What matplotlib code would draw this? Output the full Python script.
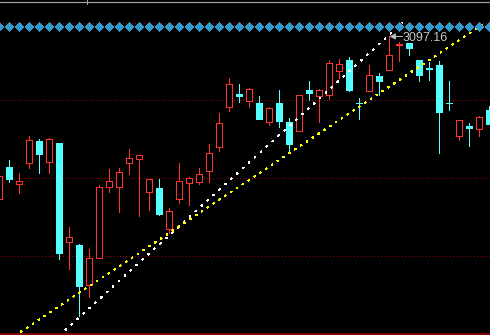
import matplotlib
matplotlib.use('Agg')
import matplotlib.pyplot as plt
from matplotlib.patches import Rectangle, Polygon
from matplotlib.lines import Line2D

plt.rcParams['lines.scale_dashes'] = False

# ---- data (index price) ----
opens = [2934.66, 2966.16, 2949.46, 2970.46, 2992.16, 2971.46, 2990.16, 2891.46, 2888.16, 2848.46,
         2875.46, 2945.86, 2945.86, 2969.86, 2974.46, 2940.86, 2945.16, 2904.46, 2934.46, 2949.86,
         2951.46, 2962.46, 2986.46, 3025.86, 3039.16, 3032.46, 3030.16, 3011.46, 3030.16, 3011.16,
         3002.66, 3043.16, 3036.86, 3038.66, 3062.66, 3073.16, 3030.46, 3042.66, 3057.16, 3063.66,
         3088.16, 3090.16, 3073.16, 3065.66, 3068.16, 3030.46, 2997.46, 3007.16, 3004.46, 3023.16]
highs = [2957.16, 2973.16, 2960.16, 2997.16, 2994.16, 2995.16, 2990.16, 2906.16, 2889.46, 2884.16,
         2948.16, 2964.16, 2965.16, 2984.16, 2977.86, 2953.86, 2954.16, 2925.16, 2970.16, 2956.46,
         2965.16, 2989.16, 3020.16, 3055.16, 3049.16, 3044.86, 3037.16, 3025.86, 3043.16, 3014.86,
         3037.86, 3052.16, 3043.86, 3073.66, 3074.16, 3076.36, 3034.86, 3068.16, 3060.16, 3097.16,
         3091.36, 3090.16, 3073.16, 3071.16, 3072.16, 3052.16, 3013.16, 3009.86, 3016.86, 3027.16]
lows = [2934.66, 2951.46, 2940.46, 2965.46, 2960.46, 2960.46, 2873.86, 2864.46, 2817.66, 2836.46,
        2875.46, 2941.46, 2921.46, 2959.46, 2917.46, 2923.16, 2918.16, 2900.46, 2930.46, 2928.16,
        2949.46, 2951.46, 2982.46, 3022.46, 3031.16, 3026.46, 3014.46, 3008.16, 3006.46, 2981.46,
        3002.66, 3033.16, 3011.46, 3034.66, 3055.16, 3042.16, 3014.66, 3042.66, 3038.36, 3063.66,
        3072.46, 3078.66, 3052.16, 3053.16, 2980.46, 3023.16, 2993.16, 2987.16, 2997.16, 3009.16]
closes = [2957.16, 2954.46, 2951.86, 2993.16, 2979.46, 2994.16, 2880.46, 2896.16, 2847.46, 2874.86,
          2946.16, 2951.86, 2960.86, 2974.86, 2977.86, 2953.86, 2919.46, 2921.86, 2951.86, 2955.16,
          2958.86, 2979.86, 3009.86, 3049.16, 3037.66, 3043.86, 3014.46, 3024.86, 3012.46, 2989.46,
          3037.86, 3040.46, 3042.86, 3070.66, 3068.86, 3043.16, 3029.86, 3057.96, 3052.46, 3078.16,
          3089.16, 3085.16, 3058.16, 3064.66, 3021.46, 3029.86, 3013.16, 3005.46, 3015.86, 3009.16]

grid_levels = [3110.86, 3033.86, 2955.96, 2878.16]
base_level = 2799.9
marker_level = 3106.66
peak_index = 39
peak_value = 3097.16
peak_label = "3097.16"

white_x = [6.57, 40.30]
white_y = [2803.56, 3110.86]
yellow_x = [2.12, 48.57]
yellow_y = [2801.86, 3110.76]

# ---- style ----
UP = '#FF3232'
DOWN = '#54FFFF'
GRID = '#8B0000'
DIAMOND = '#3399CC'
PX = 0.72  # one pixel in points at 100 dpi

fig = plt.figure(figsize=(4.9, 3.35), dpi=100)
fig.patch.set_facecolor('black')
ax = fig.add_axes([0, 0, 1, 1])
ax.set_facecolor('black')
ax.set_xlim(0.05, 49.05)
ax.set_ylim(2798.66, 3133.66)
ax.axis('off')

for lvl in grid_levels:
    ax.axhline(lvl, color=GRID, lw=PX, linestyle=(0, (0.5, 1.66)),
               antialiased=False, zorder=1)
ax.axhline(base_level, color='#800000', lw=1.5 * PX, antialiased=False, zorder=1)

# one screen pixel in data units
dx = 0.1
dy = 1.0
half_outer = 0.35
half_inner = 0.25


def rect(x0, x1, y0, y1, color, z):
    ax.add_patch(Rectangle((x0, y0), x1 - x0, y1 - y0, facecolor=color,
                           edgecolor='none', lw=0, antialiased=False, zorder=z))


for i, (o, h, l, c) in enumerate(zip(opens, highs, lows, closes)):
    up = c >= o
    col = UP if up else DOWN
    rect(i - dx / 2, i + dx / 2, l - dy / 2, h + dy / 2, col, 2)
    lo_b, hi_b = min(o, c), max(o, c)
    rect(i - half_outer, i + half_outer, lo_b - dy / 2, hi_b + dy / 2, col, 3)
    if up and hi_b - lo_b > dy:
        rect(i - half_inner, i + half_inner, lo_b + dy / 2, hi_b - dy / 2, 'black', 3.5)

# trend lines
ax.plot(white_x, white_y, color='white', lw=0.5, linestyle=(0, (1.2, 4.6)),
        antialiased=False, zorder=4)
ax.plot(yellow_x, yellow_y, color='#FFFF00', lw=0.5, linestyle=(0, (1.2, 4.1)),
        antialiased=False, zorder=4)

# diamond row
hw, hh = 0.38, 4.4
for i in range(len(opens)):
    ax.add_patch(Polygon([(i, marker_level + hh), (i + hw, marker_level),
                          (i, marker_level - hh), (i - hw, marker_level)],
                         closed=True, facecolor=DIAMOND, edgecolor='none',
                         antialiased=False, zorder=5))

# peak annotation
ax.annotate('', xy=(peak_index, peak_value), xytext=(peak_index + 1.3, peak_value),
            arrowprops=dict(arrowstyle='-|>,head_length=0.35,head_width=0.18',
                            color='#C0C0C0', lw=PX, shrinkA=0, shrinkB=0), zorder=6)
ax.text(peak_index + 1.35, peak_value - 4.2, peak_label, color='#C8C8C8',
        fontsize=9, family='Liberation Sans', ha='left', va='baseline', zorder=6)

# top border line
fig.add_artist(Line2D([0, 1], [1 - 1.5 / 335, 1 - 1.5 / 335], color='#A0A0A0', lw=1.2 * PX))
fig.add_artist(Line2D([86.5 / 490, 86.5 / 490], [1, 1 - 4 / 335], color='#A0A0A0', lw=PX))

fig.savefig('out.png', dpi=100, facecolor='black')
